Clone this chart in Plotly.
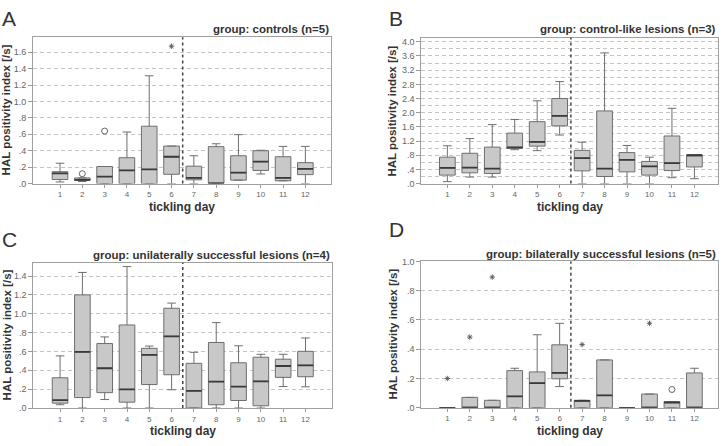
import plotly.graph_objects as go

days = list(range(1, 13))
day_labels = [str(d) for d in days]

# ---- Panel A: controls (n=5) ----
a_low = [0.02, 0.025, 0.0, 0.0, 0.0, 0.0, 0.0, 0.0, 0.042, 0.117, 0.034, 0.0]
a_q1 = [0.05, 0.038, 0.0, 0.0, 0.0, 0.113, 0.046, 0.0, 0.042, 0.16, 0.034, 0.109]
a_med = [0.125, 0.046, 0.085, 0.16, 0.172, 0.327, 0.069, 0.0, 0.133, 0.267, 0.069, 0.18]
a_q3 = [0.145, 0.069, 0.208, 0.315, 0.699, 0.457, 0.212, 0.45, 0.339, 0.40, 0.327, 0.255]
a_up = [0.248, 0.069, 0.208, 0.628, 1.313, 0.457, 0.339, 0.485, 0.596, 0.406, 0.453, 0.453]
a_circ_x, a_circ_y = [2, 3], [0.12, 0.64]
a_star_x, a_star_y = [6], [1.673]

# ---- Panel B: control-like lesions (n=3) ----
b_low = [0.055, 0.184, 0.184, 0.956, 0.93, 1.37, 0.0, 0.0, 0.0, 0.0, 0.166, 0.138]
b_q1 = [0.239, 0.303, 0.285, 0.993, 1.057, 1.628, 0.359, 0.2, 0.331, 0.239, 0.368, 0.469]
b_med = [0.441, 0.45, 0.423, 1.02, 1.177, 1.913, 0.717, 0.423, 0.671, 0.487, 0.579, 0.8]
b_q3 = [0.745, 0.855, 1.03, 1.425, 1.747, 2.4, 0.938, 2.05, 0.874, 0.625, 1.343, 0.81]
b_up = [1.067, 1.27, 1.664, 1.81, 2.336, 2.878, 1.168, 3.687, 1.076, 0.745, 2.124, 0.81]

# ---- Panel C: unilaterally successful lesions (n=4) ----
c_low = [0.035, 0.0, 0.09, 0.0, 0.0, 0.194, 0.0, 0.0, 0.0, 0.0, 0.228, 0.225]
c_q1 = [0.052, 0.111, 0.163, 0.062, 0.249, 0.353, 0.0, 0.035, 0.08, 0.024, 0.325, 0.332]
c_med = [0.083, 0.595, 0.422, 0.197, 0.563, 0.76, 0.183, 0.28, 0.228, 0.283, 0.446, 0.453]
c_q3 = [0.321, 1.2, 0.684, 0.881, 0.633, 1.058, 0.474, 0.695, 0.48, 0.539, 0.518, 0.601]
c_up = [0.553, 1.438, 0.754, 1.5, 0.657, 1.113, 0.591, 0.906, 0.66, 0.57, 0.57, 0.743]

# ---- Panel D: bilaterally successful lesions (n=5) ----
d_low = [0.0, 0.0, 0.0, 0.0, 0.0, 0.145, 0.0, 0.0, 0.0, 0.0, 0.0, 0.0]
d_q1 = [0.0, 0.0, 0.0, 0.0, 0.0, 0.198, 0.0, 0.0, 0.0, 0.0, 0.0, 0.0]
d_med = [0.0, 0.0, 0.0, 0.078, 0.169, 0.238, 0.047, 0.085, 0.0, 0.0, 0.036, 0.0]
d_q3 = [0.0, 0.071, 0.051, 0.254, 0.245, 0.43, 0.051, 0.327, 0.0, 0.094, 0.042, 0.238]
d_up = [0.0, 0.071, 0.051, 0.27, 0.499, 0.577, 0.051, 0.327, 0.0, 0.094, 0.042, 0.27]
d_circ_x, d_circ_y = [11], [0.125]
d_star_x, d_star_y = [1, 2, 3, 7, 10], [0.2, 0.483, 0.893, 0.432, 0.577]

titles = ["group: controls (n=5)", "group: control-like lesions (n=3)",
          "group: unilaterally successful lesions (n=4)",
          "group: bilaterally successful lesions (n=5)"]
letters = ["A", "B", "C", "D"]

a_ticks = [0, 0.2, 0.4, 0.6, 0.8, 1.0, 1.2, 1.4, 1.6]
a_tlab = [".0", ".2", ".4", ".6", ".8", "1.0", "1.2", "1.4", "1.6"]
b_ticks = [0, 0.4, 0.8, 1.2, 1.6, 2.0, 2.4, 2.8, 3.2, 3.6, 4.0]
b_tlab = [".0", ".4", ".8", "1.2", "1.6", "2.0", "2.4", "2.8", "3.2", "3.6", "4.0"]
c_ticks = [0, 0.2, 0.4, 0.6, 0.8, 1.0, 1.2, 1.4]
c_tlab = [".0", ".2", ".4", ".6", ".8", "1.0", "1.2", "1.4"]
d_ticks = [0, 0.2, 0.4, 0.6, 0.8, 1.0]
d_tlab = [".0", ".2", ".4", ".6", ".8", "1.0"]

FONT = "Liberation Sans, Arial, sans-serif"
BOX_W = 0.7
FILL = "#c8c8c8"
EDGE = "#6e6e6e"

panels = [
    dict(low=a_low, q1=a_q1, med=a_med, q3=a_q3, up=a_up,
         circ=(a_circ_x, a_circ_y), star=(a_star_x, a_star_y),
         xdom=[0.0456, 0.4572], ydom=[0.5904, 0.926], xr=[-0.21, 13.15], yr=[0, 1.782],
         ticks=a_ticks, tlab=a_tlab, minor=None),
    dict(low=b_low, q1=b_q1, med=b_med, q3=b_q3, up=b_up,
         circ=([], []), star=([], []),
         xdom=[0.5819, 0.9917], ydom=[0.5904, 0.9253], xr=[-0.16, 13.05], yr=[0, 4.12],
         ticks=b_ticks, tlab=b_tlab, minor=0.2),
    dict(low=c_low, q1=c_q1, med=c_med, q3=c_q3, up=c_up,
         circ=([], []), star=([], []),
         xdom=[0.046, 0.4586], ydom=[0.0756, 0.4087], xr=[-0.2, 13.19], yr=[0, 1.54],
         ticks=c_ticks, tlab=c_tlab, minor=None),
    dict(low=d_low, q1=d_q1, med=d_med, q3=d_q3, up=d_up,
         circ=(d_circ_x, d_circ_y), star=(d_star_x, d_star_y),
         xdom=[0.5819, 0.9917], ydom=[0.0762, 0.4119], xr=[-0.16, 13.05], yr=[0, 1.0],
         ticks=d_ticks, tlab=d_tlab, minor=None),
]

fig = go.Figure()
layout = dict(width=724, height=446, margin=dict(l=0, r=0, t=0, b=0),
              paper_bgcolor="white", plot_bgcolor="white", showlegend=False,
              font=dict(family=FONT), annotations=[], shapes=[])

title_y = [0.944, 0.944, 0.4276, 0.429]
letter_pos = [(0.0, 1.0), (387 / 724, 1.0), (0.0, 1 - 226 / 446), (387 / 724, 1 - 216 / 446)]
ytitle_x = [6 / 724, 392 / 724, 7 / 724, 393 / 724]
xtitle_y = [1 - 207 / 446, 1 - 207 / 446, 1 - 436 / 446, 1 - 436 / 446]

for i, p in enumerate(panels):
    sfx = "" if i == 0 else str(i + 1)
    xa, ya = "x" + sfx, "y" + sfx
    fig.add_trace(go.Box(
        x=days, q1=p["q1"], median=p["med"], q3=p["q3"],
        lowerfence=p["low"], upperfence=p["up"],
        width=BOX_W, whiskerwidth=0.55, boxpoints=False,
        fillcolor=FILL, line=dict(color=EDGE, width=1),
        xaxis=xa, yaxis=ya, hoverinfo="skip"))
    # thicker dark medians
    mx, my = [], []
    for d, m in zip(days, p["med"]):
        mx += [d - BOX_W / 2, d + BOX_W / 2, None]
        my += [m, m, None]
    fig.add_trace(go.Scatter(x=mx, y=my, mode="lines",
                             line=dict(color="#3a3a3a", width=1.8),
                             xaxis=xa, yaxis=ya, hoverinfo="skip"))
    if p["circ"][0]:
        fig.add_trace(go.Scatter(x=p["circ"][0], y=p["circ"][1], mode="markers",
                                 marker=dict(symbol="circle-open", size=6, color="#666",
                                             line=dict(width=1)),
                                 xaxis=xa, yaxis=ya))
    if p["star"][0]:
        fig.add_trace(go.Scatter(x=p["star"][0], y=p["star"][1], mode="markers",
                                 marker=dict(symbol="asterisk-open", size=4.5, color="#555",
                                             line=dict(width=0.9, color="#555")),
                                 xaxis=xa, yaxis=ya))

    layout["xaxis" + sfx] = dict(
        domain=p["xdom"], anchor=ya, range=p["xr"], tickvals=days, ticktext=day_labels,
        ticks="outside", ticklen=3, tickcolor="#999", tickfont=dict(size=8, color="#666"),
        showline=True, mirror=True, linecolor="#a0a0a0", linewidth=1,
        showgrid=False, zeroline=False, fixedrange=True)
    yax = dict(
        domain=p["ydom"], anchor=xa, range=p["yr"], tickvals=p["ticks"], ticktext=p["tlab"],
        ticks="outside", ticklen=4, tickcolor="#999", tickfont=dict(size=9, color="#666"),
        showline=True, mirror=True, linecolor="#a0a0a0", linewidth=1,
        showgrid=True, gridcolor="#c4c4c4", gridwidth=1, griddash="4px,3px",
        zeroline=False, fixedrange=True)
    if p["minor"]:
        yax["minor"] = dict(dtick=p["minor"], tick0=0, showgrid=True, gridcolor="#c4c4c4",
                            gridwidth=1, griddash="4px,3px", ticks="")
    layout["yaxis" + sfx] = yax

    layout["shapes"].append(dict(type="line", xref=xa, yref=ya + " domain",
                                 x0=6.5, x1=6.5, y0=0, y1=1,
                                 line=dict(color="#444", width=1.5, dash="dot")))
    layout["annotations"].append(dict(
        text=titles[i], xref=xa + " domain", x=1, xanchor="right",
        yref="paper", y=title_y[i], yanchor="middle", showarrow=False,
        font=dict(size=11.5, color="#333", family=FONT, weight="bold")))
    layout["annotations"].append(dict(
        text=letters[i], xref="paper", yref="paper",
        x=letter_pos[i][0], y=letter_pos[i][1], xanchor="left", yanchor="top",
        showarrow=False, font=dict(size=21, color="#333", family=FONT)))
    layout["annotations"].append(dict(
        text="HAL positivity index [/s]", xref="paper", x=ytitle_x[i], xanchor="center",
        yref=ya + " domain", y=0.5, yanchor="middle", textangle=-90, showarrow=False,
        font=dict(size=11.5, color="#333", family=FONT, weight="bold")))
    layout["annotations"].append(dict(
        text="tickling day", xref=xa + " domain", x=0.5, xanchor="center",
        yref="paper", y=xtitle_y[i], yanchor="middle", showarrow=False,
        font=dict(size=12, color="#333", family=FONT, weight="bold")))

fig.update_layout(**layout)
fig.write_html("out.html")
